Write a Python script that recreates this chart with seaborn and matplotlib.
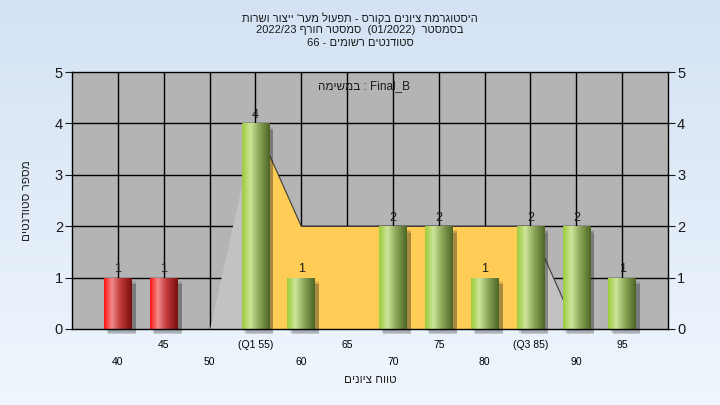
import re
import numpy as np
import matplotlib
matplotlib.use("Agg")
import matplotlib.pyplot as plt
from matplotlib.colors import LinearSegmentedColormap
from matplotlib.patches import Rectangle
import seaborn as sns

# --- dati ---
categories = ['40', '45', '50', '55', '60', '65', '70', '75', '80', '85', '90', '95']
tick_labels = ['40', '45', '50', '(Q1 55)', '60', '65', '70', '75', '80', '(Q3 85)', '90', '95']
counts = [1, 1, 0, 4, 1, 0, 2, 2, 1, 2, 2, 1]
bar_kind = ['fail', 'fail', 'pass', 'pass', 'pass', 'pass', 'pass', 'pass', 'pass', 'pass', 'pass', 'pass']
area_values = [0, 0, 0, 4, 2, 2, 2, 2, 2, 2, 0, 0]
q1_idx = 3
q3_idx = 9

title_lines = [
    "היסטוגרמת ציונים בקורס - תפעול מער' ייצור ושרות",
    "בסמסטר  (01/2022)  סמסטר חורף 2022/23",
    "סטודנטים רשומים - 66",
]
legend_heb = "במשימה"
legend_name = "Final_B"
x_title = "טווח ציונים"
y_title = "מספר סטודנטים"

MIRROR = {'(': ')', ')': '('}


def rtl(s):
    # ordine visivo per testo ebraico (matplotlib non fa bidi)
    r = s[::-1]
    r = re.sub(r"[A-Za-z0-9_/.]+", lambda m: m.group(0)[::-1], r)
    return ''.join(MIRROR.get(c, c) for c in r)


sns.set_style("white")
plt.rcParams['font.family'] = ['Liberation Sans', 'DejaVu Sans']

fig = plt.figure(figsize=(7.2, 4.05), dpi=100)

# sfondo sfumato
bg = fig.add_axes([0, 0, 1, 1], zorder=-10)
grad = np.linspace(0, 1, 256).reshape(-1, 1)
bg_cmap = LinearSegmentedColormap.from_list("bg", ["#D4E2F4", "#EFF6FD"])
bg.imshow(grad, aspect='auto', cmap=bg_cmap, extent=[0, 1, 0, 1])
bg.set_axis_off()

ax = fig.add_axes([0.1, 0.1877, 0.8278, 0.6345], zorder=1)
ax.set_facecolor('#B4B4B4')

x = np.arange(len(categories))

# area (box Q1-Q3)
ax.fill_between(x[q1_idx - 1:q1_idx + 1], area_values[q1_idx - 1:q1_idx + 1],
                color='#C2C2C2', lw=0, zorder=2)
ax.fill_between(x[q1_idx:q3_idx + 1], area_values[q1_idx:q3_idx + 1],
                color='#FFCC55', lw=0, zorder=2)
ax.fill_between(x[q3_idx:q3_idx + 2], area_values[q3_idx:q3_idx + 2],
                color='#C2C2C2', lw=0, zorder=2)
ax.plot(x[q1_idx:q3_idx + 2], area_values[q1_idx:q3_idx + 2], color='#3A3A3A', lw=0.8, zorder=2.5)

palette = {'fail': '#E02020', 'pass': '#8DB43C'}
sns.barplot(x=categories, y=counts, hue=bar_kind, palette=palette, legend=False,
            width=0.6, ax=ax, zorder=4, linewidth=0, dodge=False)

cmaps = {
    'fail': LinearSegmentedColormap.from_list("r", [(0, "#FF1414"), (0.28, "#F28A8A"),
                                                    (0.6, "#C03838"), (1, "#7A0E0E")]),
    'pass': LinearSegmentedColormap.from_list("g", [(0, "#9CCB3A"), (0.3, "#CDE59A"),
                                                    (0.6, "#8FA85A"), (1, "#4C6526")]),
}
hgrad = np.linspace(0, 1, 128).reshape(1, -1)

bars = [p for p in ax.patches if isinstance(p, Rectangle)]
bars = sorted(bars, key=lambda p: p.get_x())
for p, kind, v in zip(bars, bar_kind, counts):
    if v <= 0:
        continue
    x0, w, h = p.get_x(), p.get_width(), p.get_height()
    # ombra sfumata
    for k, a in enumerate([0.10, 0.14, 0.2]):
        d = 0.03 * (2 - k)
        ax.add_patch(Rectangle((x0 + 0.09 - d, -0.1 + d), w + d, h - 0.03,
                               facecolor='#202020', alpha=a, lw=0, zorder=3, clip_on=False))
    im = ax.imshow(hgrad, aspect='auto', cmap=cmaps[kind], extent=[x0, x0 + w, 0, h], zorder=5)
    im.set_clip_path(p)
    ax.text(p.get_x() + w / 2, h + 0.05, str(v), ha='center', va='bottom',
            fontsize=9, color='#1A1A1A', zorder=6)

ax.set_xlim(-1, len(categories))
ax.set_ylim(0, 5)

# griglia
for xi in x:
    ax.axvline(xi, color='black', lw=1, zorder=1)
for yi in range(1, 5):
    ax.axhline(yi, color='black', lw=1, zorder=1)

# tick x su due righe
odd = x[1::2]
even = x[0::2]
ax.set_xticks(odd, [tick_labels[i] for i in odd])
ax.set_xticks(even, [tick_labels[i] for i in even], minor=True)
ax.tick_params(axis='x', which='major', length=3.5, width=0.8, pad=4.5, labelsize=7.5, colors='black')
ax.tick_params(axis='x', which='minor', length=3.5, width=0.8, pad=16.5, labelsize=7.5, colors='black')

ax.set_yticks(range(0, 6))
ax.tick_params(axis='y', which='major', length=5, width=0.8, labelsize=10.5,
               left=True, right=True, labelleft=True, labelright=True, pad=1.5, colors='#1A1A1A')

for s in ax.spines.values():
    s.set_color('black')
    s.set_linewidth(1)
    s.set_zorder(7)

ax.set_xlabel(rtl(x_title), fontsize=8.5)
ax.xaxis.set_label_coords(0.5, -0.175)
ax.set_ylabel(rtl(y_title), fontsize=8.5)
ax.yaxis.set_label_coords(-0.065, 0.5)

ax.text(0.49, 0.945, f"{rtl(legend_heb)} : {legend_name}", transform=ax.transAxes,
        ha='center', va='center', fontsize=8.5, color='#1A1A1A', zorder=8)

for yy, line in zip([18, 30, 43], title_lines):
    fig.text(0.5, 1 - yy / 405, rtl(line), ha='center', va='center', fontsize=8, color='#1A1A1A')

fig.savefig("out.png", dpi=100)
